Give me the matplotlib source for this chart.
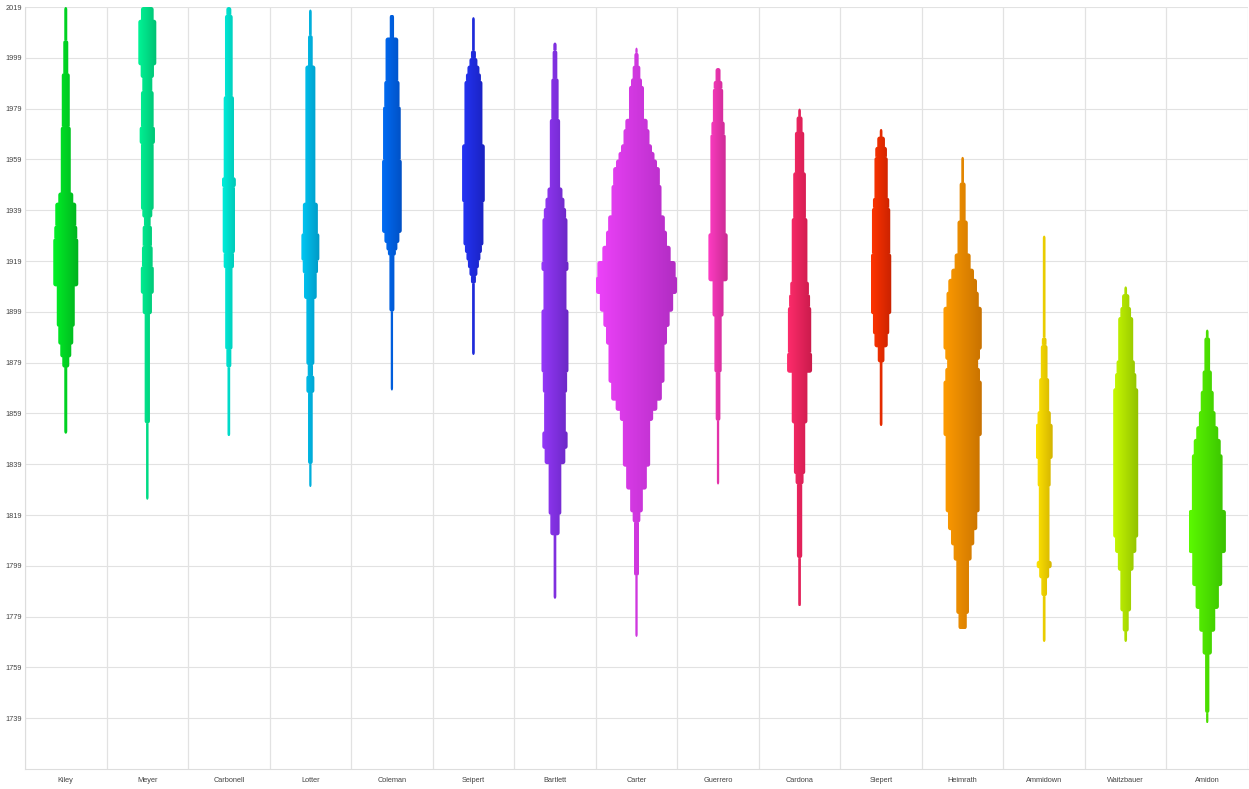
import matplotlib.pyplot as plt
import numpy as np
from matplotlib.colors import LinearSegmentedColormap
from matplotlib.path import Path
from matplotlib.patches import PathPatch

plt.rcParams['font.family'] = ['Liberation Sans', 'DejaVu Sans']

# Each profile: (year, width) steps from the bottom up; width holds until the next year.
# The last entry only marks the top year.
kiley = [(1851, 3), (1877, 7), (1881, 11), (1886, 15), (1893, 18), (1909, 25), (1928, 23),
         (1933, 21), (1942, 15), (1946, 10), (1972, 8), (1993, 5), (2006, 3), (2019, 0)]
meyer = [(1825, 2.5), (1855, 5.3), (1898, 9.3), (1906, 13), (1917, 10.7), (1925, 9.3), (1933, 6.7),
         (1936, 10), (1939, 12.7), (1965, 15.3), (1972, 12.7), (1986, 10), (1991, 13.3), (1996, 18),
         (2014, 12.7), (2019, 0)]
carbonell = [(1850, 2.7), (1877, 5), (1884, 7.3), (1916, 10.3), (1922, 12.3), (1948, 14), (1952, 10.3),
             (1984, 7.7), (2016, 5), (2019, 0)]
lotter = [(1830, 2.3), (1839, 4.7), (1867, 8), (1874, 5.3), (1878, 8), (1904, 12.7), (1914, 15.3),
          (1919, 18), (1930, 15), (1942, 10), (1996, 4.7), (2008, 2.7), (2018, 0)]
coleman = [(1868, 2.3), (1899, 5), (1921, 8), (1923, 11), (1926, 15), (1930, 19.7), (1959, 17.7),
           (1980, 15.3), (1990, 12.7), (2007, 4.3), (2016, 0)]
seipert = [(1882, 2.7), (1910, 5), (1913, 8), (1916, 11), (1919, 14), (1922, 17), (1925, 20),
           (1942, 22.7), (1965, 18), (1990, 15), (1993, 12), (1996, 8), (1999, 5), (2002, 2.7), (2015, 0)]
bartlett = [(1786, 2.7), (1811, 9.3), (1819, 12.7), (1839, 20.7), (1845, 25.3), (1852, 21.7),
            (1867, 24.3), (1875, 27), (1900, 23), (1915, 27), (1919, 25), (1936, 22.3), (1940, 19),
            (1944, 15), (1948, 10.3), (1975, 7.3), (1991, 4.7), (2002, 3.3), (2005, 0)]
carter = [(1771, 2.3), (1795, 5), (1816, 7.7), (1820, 12.7), (1829, 20.7), (1838, 27.3), (1856, 33.3),
          (1860, 41.7), (1864, 50.7), (1871, 56), (1886, 61), (1893, 66.3), (1899, 73.3), (1906, 81),
          (1913, 78.3), (1919, 68.3), (1925, 61), (1931, 56.7), (1937, 50), (1949, 46.7), (1956, 41),
          (1959, 36), (1962, 31), (1965, 26), (1971, 22.3), (1975, 15), (1988, 11), (1991, 7.7),
          (1996, 4.3), (2001, 2.3), (2003, 0)]
guerrero = [(1831, 2.3), (1856, 4.7), (1875, 7.3), (1897, 11), (1911, 19.3), (1930, 15.3), (1969, 13.3),
            (1974, 10.3), (1987, 8.7), (1990, 5), (1995, 0)]
cardona = [(1783, 2.7), (1802, 5.3), (1831, 8), (1835, 11.3), (1855, 15.7), (1875, 25), (1883, 23.3),
           (1901, 21), (1906, 18.7), (1911, 15.7), (1936, 12.7), (1954, 9.3), (1970, 6), (1976, 2.7),
           (1979, 0)]
siepert = [(1854, 2.7), (1879, 6.7), (1885, 13.3), (1890, 16.3), (1898, 20.3), (1922, 18.3), (1940, 16.3),
           (1944, 13.3), (1960, 11.7), (1964, 7.7), (1968, 2.7), (1971, 0)]
heimrath = [(1774, 8.3), (1780, 12.7), (1801, 18), (1807, 23.3), (1813, 29.3), (1820, 34), (1850, 38.3),
            (1872, 34.7), (1877, 31), (1880, 34.7), (1884, 38.3), (1901, 32.3), (1907, 28.7), (1912, 22.7),
            (1916, 16), (1922, 10.3), (1935, 6), (1950, 2.7), (1960, 0)]
ammidown = [(1769, 2.7), (1787, 5.7), (1794, 10), (1798, 15), (1801, 10.7), (1830, 13), (1841, 17),
            (1855, 13.3), (1860, 10), (1873, 6.7), (1886, 4.7), (1889, 2.7), (1929, 0)]
waitzbauer = [(1769, 2.7), (1773, 6), (1781, 10.7), (1797, 15.7), (1804, 21.3), (1810, 25), (1869, 21.3),
              (1875, 18.3), (1880, 15), (1897, 10.7), (1901, 7.3), (1906, 2.7), (1909, 0)]
amidon = [(1737, 2.3), (1741, 4.3), (1764, 9.3), (1773, 16), (1782, 23.3), (1791, 30), (1804, 37.3),
          (1821, 30.7), (1843, 27), (1849, 22), (1854, 16.7), (1860, 13), (1868, 9.3), (1876, 5.7),
          (1889, 2.7), (1892, 0)]

names = ["Kiley", "Meyer", "Carbonell", "Lotter", "Coleman", "Seipert", "Bartlett", "Carter",
         "Guerrero", "Cardona", "Siepert", "Heimrath", "Ammidown", "Waitzbauer", "Amidon"]
profiles = [kiley, meyer, carbonell, lotter, coleman, seipert, bartlett, carter,
            guerrero, cardona, siepert, heimrath, ammidown, waitzbauer, amidon]
light = ["#00f227", "#00f596", "#00f0dc", "#00c8f5", "#006cf5", "#2434f5", "#9638fa", "#ee42fa",
         "#ff3cc4", "#ff2c6c", "#ff3400", "#ff9c00", "#ffe400", "#c8fa00", "#5cfa00"]
dark = ["#00b01e", "#00c073", "#00c4b4", "#0098c4", "#0050c4", "#1a22c0", "#6a28c4", "#b02cc2",
        "#c82a90", "#c81a4a", "#c82200", "#c87200", "#d0b000", "#90c000", "#38c000"]

year_ticks = list(range(1739, 2020, 20))
full_width = 81.5  # a width of this size fills one column

fig = plt.figure(figsize=(12.49, 7.89), dpi=100)
ax = fig.add_axes([25 / 1249, 20 / 789, 1223 / 1249, 762 / 789])
px_x = 15 / 1223   # data units per pixel
px_y = 300 / 762
radius = 2.5       # corner rounding, pixels


def corner(cx, cy, rx, ry, a0, a1):
    t = np.radians(np.linspace(a0, a1, 6))
    return list(zip(cx + rx * np.cos(t), cy + ry * np.sin(t)))


def block(x0, x1, y0, y1, round_bottom, round_top):
    rx = min(radius * px_x, (x1 - x0) / 2)
    ry = min(radius * px_y, (y1 - y0) / 2)
    pts = []
    pts += corner(x1 - rx, y0 + ry, rx, ry, -90, 0) if round_bottom else [(x1, y0)]
    pts += corner(x1 - rx, y1 - ry, rx, ry, 0, 90) if round_top else [(x1, y1)]
    pts += corner(x0 + rx, y1 - ry, rx, ry, 90, 180) if round_top else [(x0, y1)]
    pts += corner(x0 + rx, y0 + ry, rx, ry, 180, 270) if round_bottom else [(x0, y0)]
    codes = [Path.MOVETO] + [Path.LINETO] * (len(pts) - 1) + [Path.CLOSEPOLY]
    return Path(pts + [pts[0]], codes)


grad = np.linspace(0, 1, 256).reshape(1, -1)
for i, prof in enumerate(profiles):
    cx = i + 0.5
    years = [p[0] for p in prof]
    widths = [p[1] for p in prof]
    n = len(prof) - 1
    parts = []
    for j in range(n):
        hw = widths[j] / 2 / full_width
        below = widths[j - 1] if j > 0 else 0
        above = widths[j + 1] if j < n - 1 else 0
        parts.append(block(cx - hw, cx + hw, years[j], years[j + 1],
                           widths[j] > below, widths[j] > above))
    shape = PathPatch(Path.make_compound_path(*parts), facecolor="none", edgecolor="none")
    ax.add_patch(shape)
    maxhw = max(widths) / 2 / full_width
    cmap = LinearSegmentedColormap.from_list(names[i], [light[i], dark[i]])
    im = ax.imshow(grad, cmap=cmap, aspect="auto", origin="lower", interpolation="bilinear",
                   extent=[cx - maxhw, cx + maxhw, years[0], years[-1]], zorder=2)
    im.set_clip_path(shape)

ax.set_xlim(0, 15)
ax.set_ylim(1719, 2019)
ax.set_xticks(np.arange(15) + 0.5)
ax.set_xticklabels(names)
ax.set_xticks(np.arange(16), minor=True)
ax.set_yticks(year_ticks)
ax.tick_params(axis="both", which="both", length=0, labelsize=5.3, labelcolor="#444444")
ax.tick_params(axis="y", pad=2)
ax.tick_params(axis="x", pad=6)
ax.set_axisbelow(True)
ax.grid(axis="y", which="major", color="#e2e2e2", linewidth=0.8)
ax.grid(axis="x", which="minor", color="#e2e2e2", linewidth=0.9)
ax.grid(axis="x", which="major", visible=False)
for side in ["top", "right"]:
    ax.spines[side].set_visible(False)
for side in ["left", "bottom"]:
    ax.spines[side].set_color("#dddddd")
    ax.spines[side].set_linewidth(0.8)

fig.savefig("out.png", dpi=100)
